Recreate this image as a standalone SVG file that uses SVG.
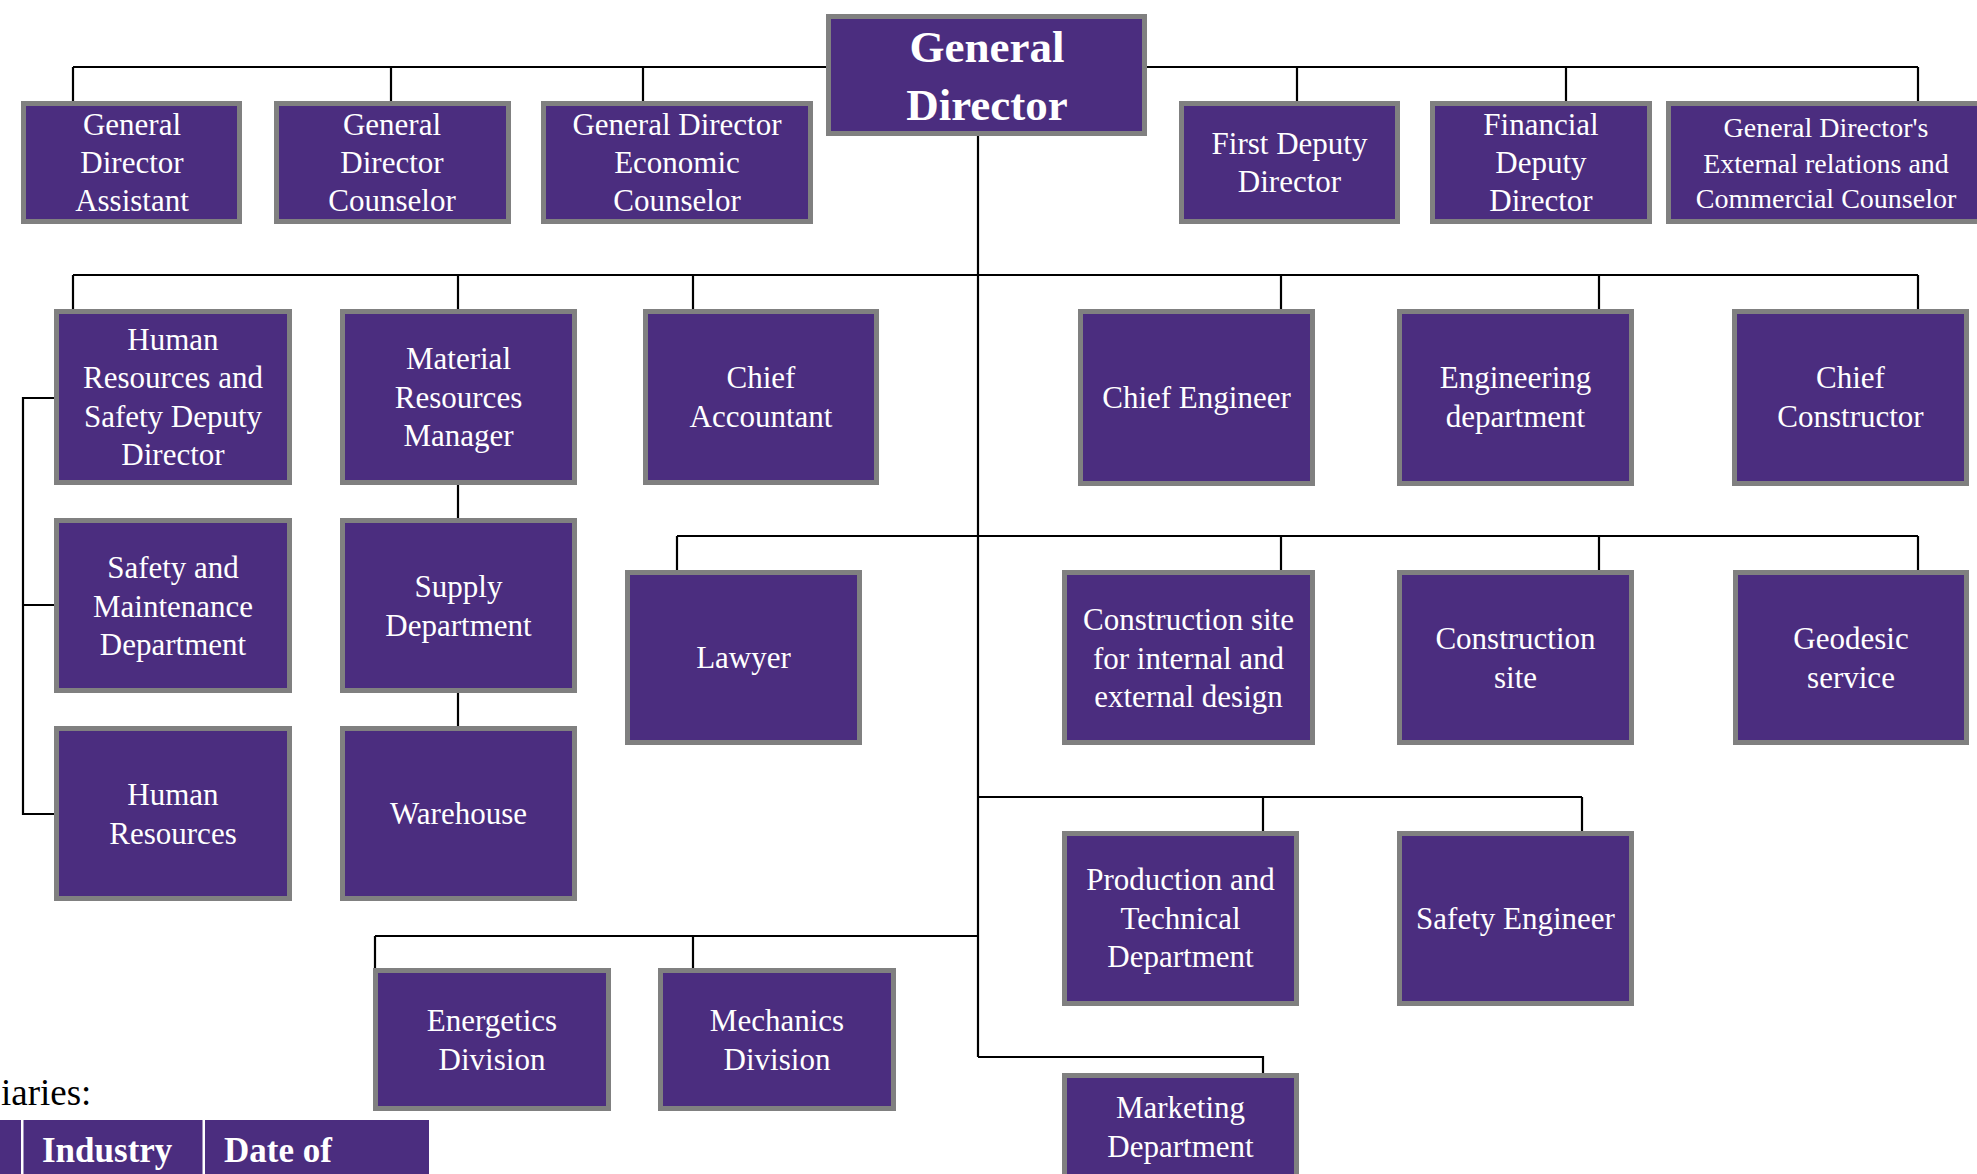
<svg xmlns="http://www.w3.org/2000/svg" width="1977" height="1174" viewBox="0 0 1977 1174">
<style>
.box{fill:#4B2D7F;stroke:#808080;stroke-width:5}
.t{font-family:"Liberation Serif","Times New Roman",serif;font-size:31px;fill:#FFFFFF;text-anchor:middle}
.ts{font-size:28px}
.tb{font-size:45px;font-weight:bold}
.ln{stroke:#000000;stroke-width:2.2;fill:none}
.cell{fill:#4B2D7F}
.th{font-family:"Liberation Serif","Times New Roman",serif;font-size:35px;font-weight:bold;fill:#FFFFFF}
</style>
<rect width="1977" height="1174" fill="#FFFFFF"/>
<g id="connectors">
<path class="ln" d="M73,67H1918M73,67V101M391,67V101M643,67V101M1297,67V101M1566,67V101M1918,67V101" stroke-width="2.6"/>
<path class="ln" d="M978,136V1057"/>
<path class="ln" d="M73,275H1918M73,275V309M458,275V309M693,275V309M1281,275V309M1599,275V309M1918,275V309"/>
<path class="ln" d="M677,536H1918M677,536V570M1281,536V570M1599,536V570M1918,536V570"/>
<path class="ln" d="M978,797H1582M1263,797V831M1582,797V831"/>
<path class="ln" d="M375,936H978M375,936V968M693,936V968"/>
<path class="ln" d="M978,1057H1263V1073"/>
<path class="ln" d="M458,485V518M458,693V726"/>
<path class="ln" d="M54,398H23V814H54M23,605H54"/>
</g>
<g id="n-gda"><rect class="box" x="23.5" y="103.5" width="216" height="118"/><text class="t" x="132"><tspan x="132" y="135">General</tspan><tspan x="132" y="173">Director</tspan><tspan x="132" y="211">Assistant</tspan></text></g>
<g id="n-gdc"><rect class="box" x="276.5" y="103.5" width="232" height="118"/><text class="t"><tspan x="392" y="135">General</tspan><tspan x="392" y="173">Director</tspan><tspan x="392" y="211">Counselor</tspan></text></g>
<g id="n-gdec"><rect class="box" x="543.5" y="103.5" width="267" height="118"/><text class="t"><tspan x="677" y="135">General Director</tspan><tspan x="677" y="173">Economic</tspan><tspan x="677" y="211">Counselor</tspan></text></g>
<g id="n-gd"><rect class="box" x="828.5" y="16.5" width="316" height="117"/><text class="t tb"><tspan x="987" y="62">General</tspan><tspan x="987" y="120">Director</tspan></text></g>
<g id="n-fdd"><rect class="box" x="1181.5" y="103.5" width="216" height="118"/><text class="t"><tspan x="1289.5" y="154">First Deputy</tspan><tspan x="1289.5" y="192">Director</tspan></text></g>
<g id="n-fin"><rect class="box" x="1432.5" y="103.5" width="217" height="118"/><text class="t"><tspan x="1541" y="135">Financial</tspan><tspan x="1541" y="173">Deputy</tspan><tspan x="1541" y="211">Director</tspan></text></g>
<g id="n-ext"><rect class="box" x="1668.5" y="103.5" width="315" height="118"/><text class="t ts"><tspan x="1826" y="137">General Director's</tspan><tspan x="1826" y="172.5">External relations and</tspan><tspan x="1826" y="208">Commercial Counselor</tspan></text></g>
<g id="n-hrsdd"><rect class="box" x="56.5" y="311.5" width="233" height="171"/><text class="t"><tspan x="173" y="350">Human</tspan><tspan x="173" y="388">Resources and</tspan><tspan x="173" y="426.5">Safety Deputy</tspan><tspan x="173" y="465">Director</tspan></text></g>
<g id="n-mrm"><rect class="box" x="342.5" y="311.5" width="232" height="171"/><text class="t"><tspan x="458.5" y="369">Material</tspan><tspan x="458.5" y="407.5">Resources</tspan><tspan x="458.5" y="446">Manager</tspan></text></g>
<g id="n-ca"><rect class="box" x="645.5" y="311.5" width="231" height="171"/><text class="t"><tspan x="761" y="388">Chief</tspan><tspan x="761" y="426.5">Accountant</tspan></text></g>
<g id="n-ce"><rect class="box" x="1080.5" y="311.5" width="232" height="172"/><text class="t" x="1196.5" y="407.5">Chief Engineer</text></g>
<g id="n-ed"><rect class="box" x="1399.5" y="311.5" width="232" height="172"/><text class="t"><tspan x="1515.5" y="388">Engineering</tspan><tspan x="1515.5" y="426.5">department</tspan></text></g>
<g id="n-cc"><rect class="box" x="1734.5" y="311.5" width="232" height="172"/><text class="t"><tspan x="1850.5" y="388">Chief</tspan><tspan x="1850.5" y="426.5">Constructor</tspan></text></g>
<g id="n-smd"><rect class="box" x="56.5" y="520.5" width="233" height="170"/><text class="t"><tspan x="173" y="578">Safety and</tspan><tspan x="173" y="616.5">Maintenance</tspan><tspan x="173" y="655">Department</tspan></text></g>
<g id="n-hr"><rect class="box" x="56.5" y="728.5" width="233" height="170"/><text class="t"><tspan x="173" y="805">Human</tspan><tspan x="173" y="843.5">Resources</tspan></text></g>
<g id="n-supply"><rect class="box" x="342.5" y="520.5" width="232" height="170"/><text class="t"><tspan x="458.5" y="597">Supply</tspan><tspan x="458.5" y="635.5">Department</tspan></text></g>
<g id="n-warehouse"><rect class="box" x="342.5" y="728.5" width="232" height="170"/><text class="t" x="458.5" y="824">Warehouse</text></g>
<g id="n-lawyer"><rect class="box" x="627.5" y="572.5" width="232" height="170"/><text class="t" x="743.5" y="668">Lawyer</text></g>
<g id="n-csied"><rect class="box" x="1064.5" y="572.5" width="248" height="170"/><text class="t"><tspan x="1188.5" y="630">Construction site</tspan><tspan x="1188.5" y="668.5">for internal and</tspan><tspan x="1188.5" y="707">external design</tspan></text></g>
<g id="n-cs"><rect class="box" x="1399.5" y="572.5" width="232" height="170"/><text class="t"><tspan x="1515.5" y="649">Construction</tspan><tspan x="1515.5" y="687.5">site</tspan></text></g>
<g id="n-gs"><rect class="box" x="1735.5" y="572.5" width="231" height="170"/><text class="t"><tspan x="1851" y="649">Geodesic</tspan><tspan x="1851" y="687.5">service</tspan></text></g>
<g id="n-ptd"><rect class="box" x="1064.5" y="833.5" width="232" height="170"/><text class="t"><tspan x="1180.5" y="890">Production and</tspan><tspan x="1180.5" y="928.5">Technical</tspan><tspan x="1180.5" y="967">Department</tspan></text></g>
<g id="n-se"><rect class="box" x="1399.5" y="833.5" width="232" height="170"/><text class="t" x="1515.5" y="928.5">Safety Engineer</text></g>
<g id="n-energetics"><rect class="box" x="375.5" y="970.5" width="233" height="138"/><text class="t"><tspan x="492" y="1031">Energetics</tspan><tspan x="492" y="1070">Division</tspan></text></g>
<g id="n-mechanics"><rect class="box" x="660.5" y="970.5" width="233" height="138"/><text class="t"><tspan x="777" y="1031">Mechanics</tspan><tspan x="777" y="1070">Division</tspan></text></g>
<g id="n-marketing"><rect class="box" x="1064.5" y="1075.5" width="232" height="170"/><text class="t"><tspan x="1180.5" y="1118">Marketing</tspan><tspan x="1180.5" y="1157">Department</tspan></text></g>
<g id="subsidiaries">
<text x="1" y="1105" font-family="&quot;Liberation Serif&quot;,&quot;Times New Roman&quot;,serif" font-size="37" fill="#000000">iaries:</text>
<rect class="cell" x="0" y="1120" width="21" height="60"/>
<rect class="cell" x="23.5" y="1120" width="179" height="60"/>
<rect class="cell" x="205" y="1120" width="224" height="60"/>
<text class="th" x="42" y="1162">Industry</text>
<text class="th" x="224" y="1162">Date of</text>
</g>
</svg>
